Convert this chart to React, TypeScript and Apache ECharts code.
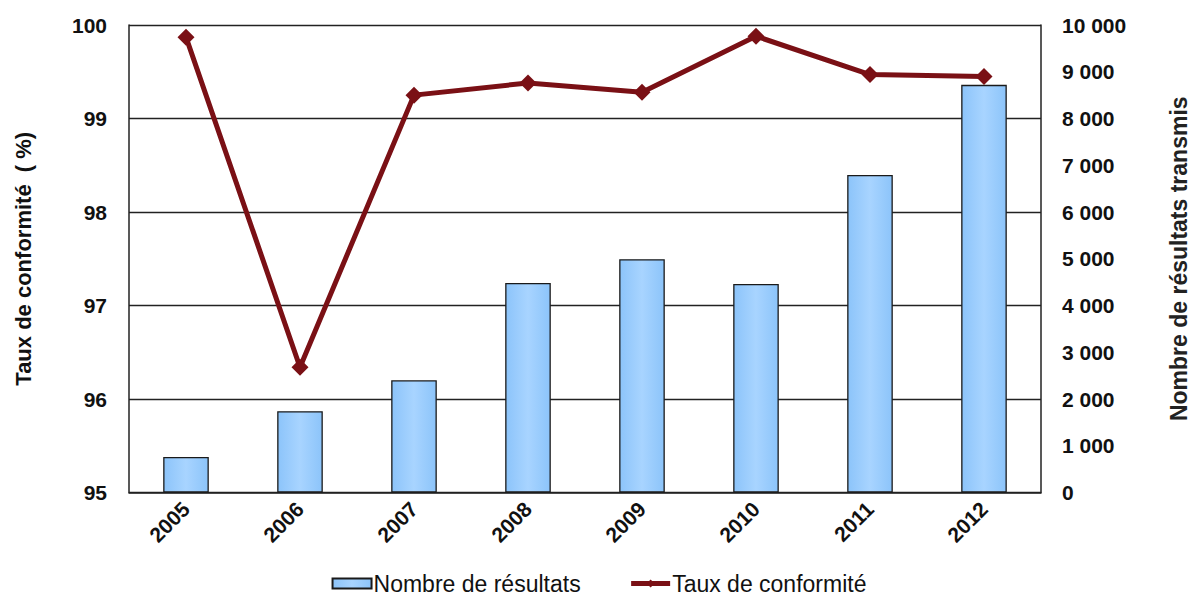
import React, { useEffect, useRef } from "react";
import * as echarts from "echarts";

const years = ["2005", "2006", "2007", "2008", "2009", "2010", "2011", "2012"];
const nombreResultats = [760, 1740, 2400, 4480, 4990, 4460, 6790, 8720];
const tauxConformite = [99.87, 96.34, 99.25, 99.38, 99.28, 99.88, 99.47, 99.45];
const leftTicks = [95, 100, 1];
const rightTicks = [0, 10000, 1000];

const FONT = "'Liberation Sans', Arial, sans-serif";
const LINE_COLOR = "#7A1015";

function formatThousands(v: number): string {
  return String(v).replace(/\B(?=(\d{3})+(?!\d))/g, " ");
}

export default function App() {
  const ref = useRef<HTMLDivElement>(null);

  useEffect(() => {
    if (!ref.current) return;
    const chart = echarts.init(ref.current, null, { renderer: "svg" });
    chart.setOption({
      animation: false,
      backgroundColor: "#ffffff",
      textStyle: { fontFamily: FONT },
      grid: { left: 129, right: 152, top: 25, bottom: 107.5, containLabel: false },
      legend: {
        bottom: 0,
        left: "center",
        itemWidth: 39,
        itemHeight: 10,
        itemGap: 48,
        textStyle: { fontFamily: FONT, fontSize: 23, color: "#111", padding: [0, 0, 0, -3] },
        data: [
          { name: "Nombre de résultats", icon: "rect" },
          { name: "Taux de conformité", lineStyle: { width: 5, color: LINE_COLOR } },
        ],
      },
      xAxis: {
        type: "category",
        data: years,
        axisLine: { show: true, lineStyle: { color: "#222", width: 1.5 } },
        axisTick: { show: false },
        axisLabel: {
          rotate: 45,
          margin: 13,
          fontFamily: FONT,
          fontSize: 21,
          fontWeight: "bold",
          color: "#111",
        },
      },
      yAxis: [
        {
          type: "value",
          min: leftTicks[0],
          max: leftTicks[1],
          interval: leftTicks[2],
          position: "left",
          name: "Taux de conformité  ( %)",
          nameLocation: "middle",
          nameRotate: 90,
          nameGap: 95,
          nameTextStyle: { fontFamily: FONT, fontSize: 22, fontWeight: "bold", color: "#111" },
          axisLine: { show: true, lineStyle: { color: "#222", width: 1.5 } },
          axisTick: { show: false },
          axisLabel: { margin: 22, fontFamily: FONT, fontSize: 21, fontWeight: "bold", color: "#111" },
          splitLine: { show: true, lineStyle: { color: "#222", width: 1.4 } },
        },
        {
          type: "value",
          min: rightTicks[0],
          max: rightTicks[1],
          interval: rightTicks[2],
          position: "right",
          name: "Nombre de résultats transmis",
          nameLocation: "middle",
          nameRotate: 90,
          nameGap: 126,
          nameTextStyle: { fontFamily: FONT, fontSize: 23, fontWeight: "bold", color: "#222" },
          axisLine: { show: true, lineStyle: { color: "#222", width: 1.5 } },
          axisTick: { show: false },
          axisLabel: {
            margin: 21,
            fontFamily: FONT,
            fontSize: 21,
            fontWeight: "bold",
            color: "#111",
            formatter: (v: number) => formatThousands(v),
          },
          splitLine: { show: false },
        },
      ],
      series: [
        {
          name: "Nombre de résultats",
          type: "bar",
          yAxisIndex: 1,
          data: nombreResultats,
          barWidth: "40%",
          itemStyle: {
            color: new echarts.graphic.LinearGradient(0, 0, 1, 0, [
              { offset: 0, color: "#8CC4FA" },
              { offset: 0.5, color: "#A8D4FF" },
              { offset: 1, color: "#8CC4FA" },
            ]),
            borderColor: "#1a1a1a",
            borderWidth: 1.3,
          },
          z: 2,
        },
        {
          name: "Taux de conformité",
          type: "line",
          yAxisIndex: 0,
          data: tauxConformite,
          symbol: "diamond",
          symbolSize: 17,
          lineStyle: { color: LINE_COLOR, width: 5 },
          itemStyle: { color: LINE_COLOR },
          z: 3,
        },
      ],
    });
    return () => chart.dispose();
  }, []);

  return (
    <div
      ref={ref}
      style={{ position: "fixed", left: 0, top: 0, width: 1198, height: 600, background: "#fff" }}
    />
  );
}
